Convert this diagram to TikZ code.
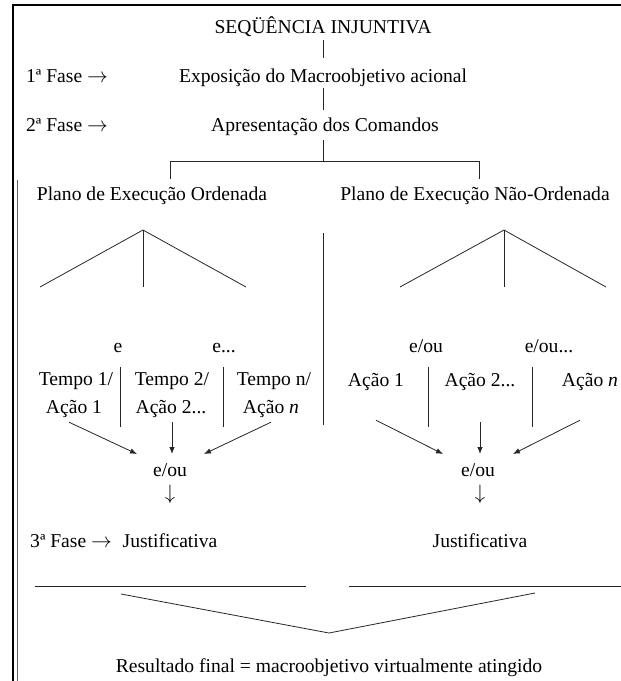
\documentclass[tikz,border=0pt]{standalone}
\usepackage{fontspec}
\setmainfont{Liberation Serif}
\usetikzlibrary{arrows.meta}
\begin{document}
\begin{tikzpicture}[x=1pt,y=-1pt,
  txt/.style={inner sep=0pt, anchor=base, text height=13pt, text depth=4pt,
              font=\fontsize{19.6}{22}\selectfont},
  ln/.style={line width=0.8pt, black!85},
  arr/.style={ln, -{Latex[length=7pt,width=5.5pt]}},
  framel/.style={line width=2pt, black}]
\useasboundingbox (0,0) rectangle (621,681);
% frame
\draw[framel] (13,681) -- (13,5) -- (621,5);
\draw[line width=0.8pt, black!60] (17,180) -- (17,681);

% top chain
\node[txt] (title) at (323,33) {SEQÜÊNCIA INJUNTIVA};
\node[txt] (expo) at (323,82) {Exposição do Macroobjetivo acional};
\node[txt,anchor=base west] (f1) at (26,82) {1ª Fase $\rightarrow$};
\node[txt] (apr) at (325,131) {Apresentação dos Comandos};
\node[txt,anchor=base west] (f2) at (26,131) {2ª Fase $\rightarrow$};

\draw[ln] ([yshift=-3pt]title.south) -- ([yshift=11pt]expo.north);
\draw[ln] ([yshift=-2pt]expo.south) -- ([yshift=8pt]apr.north-|expo.north);
\coordinate (hb) at (323,161);
\coordinate (cL) at (170,161);
\coordinate (cR) at (479,161);
\draw[ln] ([yshift=-5pt]apr.south-|hb) -- (hb);

% two plans
\node[txt] (po) at (152,200) {Plano de Execução Ordenada};
\node[txt] (pn) at (475,200) {Plano de Execução Não-Ordenada};
\draw[ln] ([yshift=8pt]po.north-|cL) -- (cL) -- (cR) -- ([yshift=8pt]pn.north-|cR);

% triangles
\coordinate (aL) at (143,230);
\coordinate (aL1) at (40,287);
\coordinate (aL2) at (143,287);
\coordinate (aL3) at (246,287);
\draw[ln] (aL1) -- (aL) -- (aL3);
\draw[ln] (aL) -- (aL2);
\coordinate (aR) at (504,230);
\coordinate (aR1) at (400,287);
\coordinate (aR2) at (504,287);
\coordinate (aR3) at (606,287);
\draw[ln] (aR1) -- (aR) -- (aR3);
\draw[ln] (aR) -- (aR2);

% central divider
\coordinate (dT) at (323,233);
\coordinate (dB) at (323,425);
\draw[ln] (dT) -- (dB);

% left section
\node[txt] (le1) at (118,352) {e};
\node[txt] (le2) at (224,352) {e...};
\node[txt] (t1) at (76,385) {Tempo 1/};
\node[txt] (a1) at (74,413) {Ação 1};
\node[txt] (t2) at (172,385) {Tempo 2/};
\node[txt] (a2) at (171,413) {Ação 2...};
\node[txt] (t3) at (274,385) {Tempo n/};
\node[txt] (a3) at (271,413) {Ação \textit{n}};
\coordinate (sL1t) at (120,367);
\coordinate (sL1b) at (120,427);
\coordinate (sL2t) at (223,367);
\coordinate (sL2b) at (223,427);
\draw[ln] (sL1t) -- (sL1b);
\draw[ln] (sL2t) -- (sL2b);

\coordinate (hL1) at (137,454);
\coordinate (hL2) at (172,454);
\coordinate (hL3) at (204,454);
\draw[arr] ([xshift=-5pt,yshift=-5pt]a1.south) -- (hL1);
\draw[arr] ([yshift=-5pt]a2.south-|hL2) -- (hL2);
\draw[arr] ([yshift=-5pt]a3.south) -- (hL3);

\node[txt] (eoL) at (170,476) {e/ou};
\node[txt] (dnL) at (170,499) {$\downarrow$};
\node[txt,anchor=base west] (f3) at (30,547) {3ª Fase $\rightarrow$};
\node[txt] (jL) at (170,547) {Justificativa};

% right section
\node[txt] (re1) at (426,352) {e/ou};
\node[txt] (re2) at (549,352) {e/ou...};
\node[txt] (b1) at (376,386) {Ação 1};
\node[txt] (b2) at (480,386) {Ação 2...};
\node[txt] (b3) at (590,386) {Ação \textit{n}};
\coordinate (sR1t) at (428,367);
\coordinate (sR1b) at (428,427);
\coordinate (sR2t) at (532,367);
\coordinate (sR2b) at (532,427);
\draw[ln] (sR1t) -- (sR1b);
\draw[ln] (sR2t) -- (sR2b);

\coordinate (hR1) at (443,454);
\coordinate (hR2) at (480,454);
\coordinate (hR3) at (513,454);
\draw[arr] ([yshift=-30pt]b1.south) -- (hR1);
\draw[arr] ([yshift=-32pt]b2.south) -- (hR2);
\draw[arr] ([xshift=-10pt,yshift=-30pt]b3.south) -- (hR3);

\node[txt] (eoR) at (478,476) {e/ou};
\node[txt] (dnR) at (480,499) {$\downarrow$};
\node[txt] (jR) at (480,547) {Justificativa};

% bottom
\coordinate (lL1) at (35,586);
\coordinate (lL2) at (306,586);
\coordinate (lR1) at (349,586);
\coordinate (lR2) at (621,586);
\draw[ln] (lL1) -- (lL2);
\draw[ln] (lR1) -- (lR2);
\coordinate (vL) at (121,594);
\coordinate (vB) at (329,633);
\coordinate (vR) at (535,593);
\draw[ln] (vL) -- (vB) -- (vR);
\node[txt] (res) at (329,672) {Resultado final = macroobjetivo virtualmente atingido};
\end{tikzpicture}
\end{document}
